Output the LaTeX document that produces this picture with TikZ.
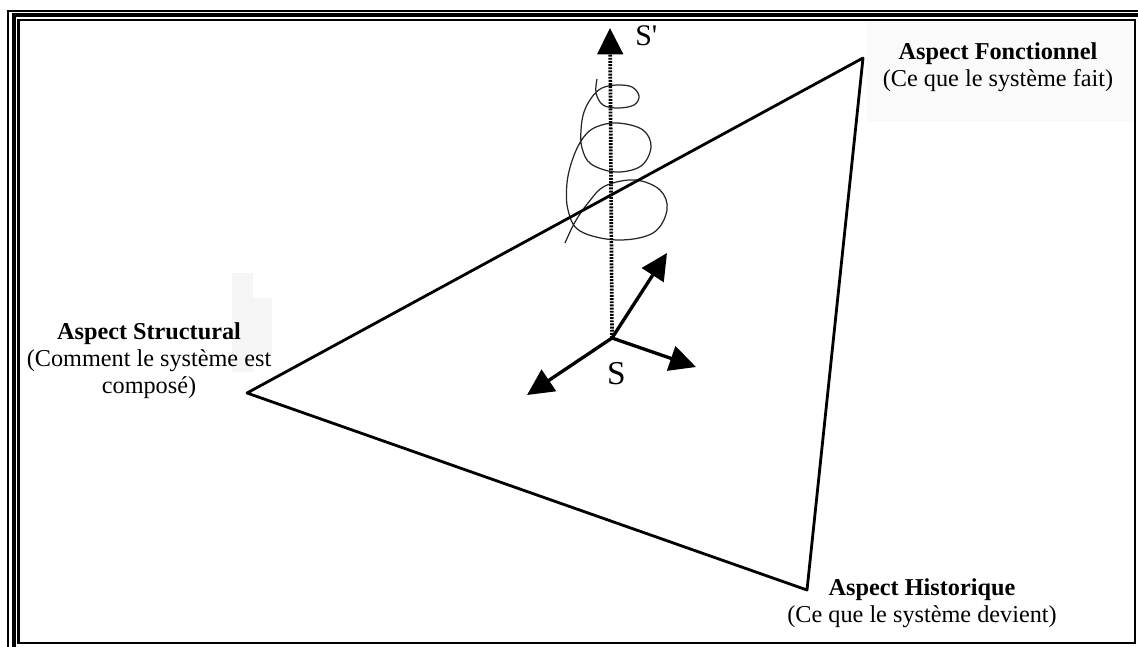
\documentclass[tikz,border=0pt]{standalone}
\usepackage{fontspec}
\setmainfont{Liberation Serif}
\usetikzlibrary{arrows.meta,positioning}

\tikzset{
  edge/.style={line width=1.6pt, line join=round},
  axis/.style={line width=1.9pt, -{Triangle[length=15pt,width=14.5pt]}},
  axisdot/.style={axis, line width=2.1pt, dash pattern=on 1.1pt off 0.7pt},
  helix/.style={line width=0.7pt, black!85},
  aspectlbl/.style={align=center, inner sep=0pt, font=\fontsize{13.8pt}{15.4pt}\selectfont},
  axislbl/.style={inner sep=0pt, font=\fontsize{19pt}{22pt}\selectfont}
}

\begin{document}
\begin{tikzpicture}[x=0.02cm, y=-0.02cm]
  \useasboundingbox (0,0) rectangle (1138,646);

  % faint scan traces
  \fill[black!2] (867,22) rectangle (1133,122);
  \fill[black!4] (232,273) -- (253,273) -- (253,298) -- (272,298) -- (272,355)
    -- (253,355) -- (253,372) -- (232,372) -- cycle;

  % Frame
  \begin{scope}
    \clip (0,0) rectangle (1138,646);
    \draw[line width=1.2pt] (7.8,11) rectangle (1170,680);
    \draw[line width=2.3pt] (13.7,15.3) rectangle (1160,670);
    \draw[line width=1.3pt] (18.6,20.3) rectangle (1135,643);
  \end{scope}

  % Triangle vertices
  \coordinate (vStruct) at (247,393);
  \coordinate (vFonct) at (863,58);
  \coordinate (vHist) at (807,590);

  % Axes of S
  \coordinate (orig) at (612,338);
  \coordinate (tipUp) at (610,28);
  \coordinate (tipNE) at (667,253);
  \coordinate (tipE) at (696,367);
  \coordinate (tipSW) at (527,395);

  % Helix round the vertical axis
  \draw[helix] plot[smooth, tension=0.6] coordinates {
    (597,79) (596,93) (603,105) (618,108) (634,105) (639,96) (632,87) (617,85)
    (602,88) (592,97) (584,112) (581,130) (582,148) (591,164) (616,172)
    (641,166) (651,147) (643,130) (618,123) (596,127) (583,138) (573,158)
    (567,183) (568,210) (580,231) (617,240) (653,233) (667,210) (660,190)
    (635,180) (605,186) (588,203) (575,222) (565,243)};

  % Triangle
  \draw[edge] (vStruct) -- (vFonct) -- (vHist) -- cycle;

  % Arrows
  \draw[axisdot] (orig) -- (tipUp);
  \foreach \t in {tipNE,tipE,tipSW}
    \draw[axis] (orig) -- (\t);

  \node[axislbl, anchor=base west] (lblSp) at (635,45) {\fontsize{17pt}{20pt}\selectfont S\textquotesingle};
  \node[axislbl, anchor=base] (lblS) at (616.5,384) {S};

  % Labels of the vertices
  \node[aspectlbl, anchor=north] (lblFonct) at (998,42.5)
    {\textbf{Aspect Fonctionnel}\\(Ce que le système fait)};
  \node[aspectlbl, anchor=north] (lblHist) at (922,578.5)
    {\textbf{Aspect Historique}\\(Ce que le système devient)};
  \node[aspectlbl, anchor=north] (lblStruct) at (149,322.5)
    {\textbf{Aspect Structural}\\(Comment le système est\\composé)};
\end{tikzpicture}
\end{document}
